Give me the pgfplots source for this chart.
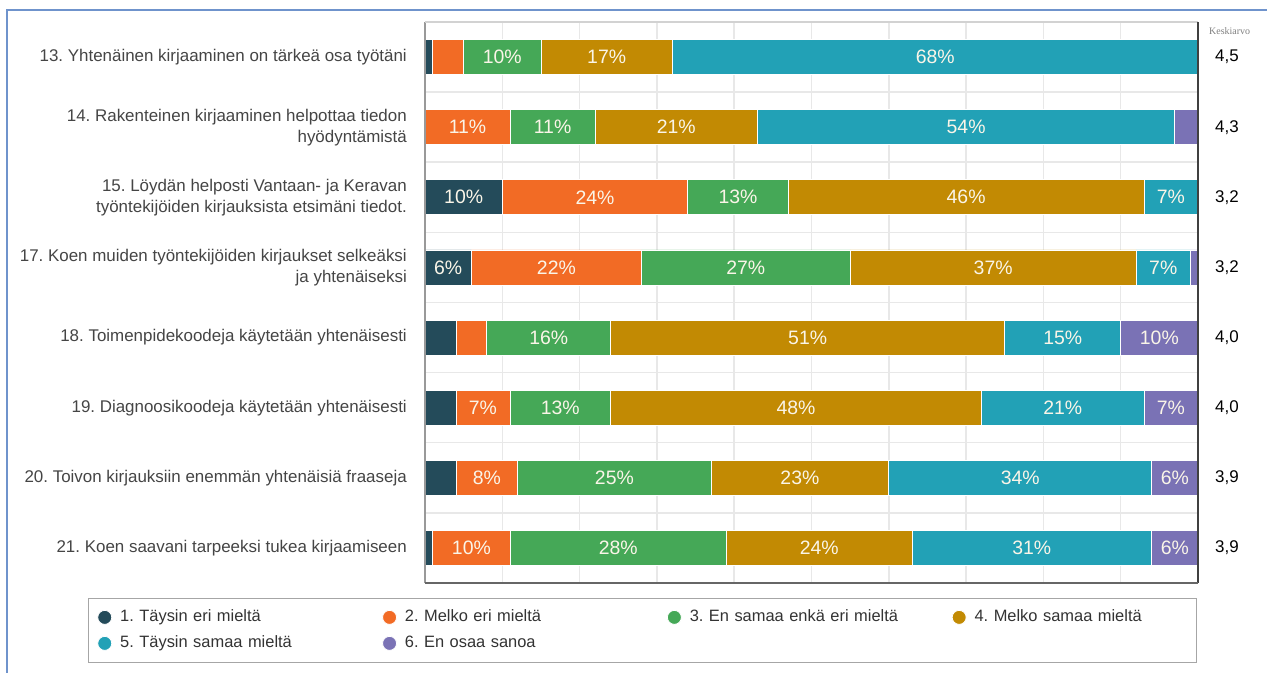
\documentclass[border=0pt]{standalone}
\usepackage{pgfplots}
\usepackage{pgfplotstable}
\pgfplotsset{compat=1.18}
\usepackage{fontspec}
\setmainfont{Liberation Sans}
\newfontfamily\seriffont{Liberation Serif}
\frenchspacing
\definecolor{c1}{HTML}{244B5A}
\definecolor{c2}{HTML}{F26B25}
\definecolor{c3}{HTML}{45A857}
\definecolor{c4}{HTML}{C28A03}
\definecolor{c5}{HTML}{22A1B6}
\definecolor{c6}{HTML}{7A72B5}
\definecolor{framec}{HTML}{6F93CC}
\definecolor{gridc}{HTML}{E8E8E8}
\definecolor{labc}{HTML}{454545}
\definecolor{legc}{HTML}{333333}
\definecolor{barlab}{HTML}{FAF5E8}

\pgfplotstableread{
row s1 s2 s3 s4 s5 s6
8 1 4 10 17 68 0
7 0 11 11 21 54 3
6 10 24 13 46 7 0
5 6 22 27 37 7 1
4 4 4 16 51 15 10
3 4 7 13 48 21 7
2 4 8 25 23 34 6
1 1 10 28 24 31 6
}\data

\begin{document}
\begin{tikzpicture}[x=1bp,y=1bp]
\path[use as bounding box, fill=white] (0,0) rectangle (1267,673);
\begin{axis}[
  at={(425bp,90bp)}, anchor=south west,
  width=773bp, height=561bp, scale only axis,
  xbar stacked, bar width=35bp,
  xmin=0, xmax=100, ymin=0.5, ymax=8.5,
  axis line style={draw=none},
  xtick={10,20,...,90}, xticklabels={},
  xmajorgrids, major grid style={gridc, line width=1.5bp},
  ytick={1,...,8},
  minor ytick={1.5,2.5,...,7.5},
  yminorgrids, minor grid style={gridc, line width=1.5bp},
  major tick length=0pt, minor tick length=0pt,
  yticklabels={
    21. Koen saavani tarpeeksi tukea kirjaamiseen,
    20. Toivon kirjauksiin enemmän yhtenäisiä fraaseja,
    19. Diagnoosikoodeja käytetään yhtenäisesti,
    18. Toimenpidekoodeja käytetään yhtenäisesti,
    {17. Koen muiden työntekijöiden kirjaukset selkeäksi\\ja yhtenäiseksi},
    {15. Löydän helposti Vantaan- ja Keravan\\työntekijöiden kirjauksista etsimäni tiedot.},
    {14. Rakenteinen kirjaaminen helpottaa tiedon\\hyödyntämistä},
    13. Yhtenäinen kirjaaminen on tärkeä osa työtäni},
  yticklabel style={align=right, font=\fontsize{17}{21}\selectfont, text=labc, inner sep=0pt, xshift=-18bp},
  legend columns=4,
  legend image code/.code={\fill (7bp,0bp) circle (7bp);},
  legend style={at={(-0.436,-0.0267)}, anchor=north west, draw=gray!70, line width=0.8bp,
    inner xsep=9bp, inner ysep=6bp,
    font=\fontsize{16.5}{18}\selectfont, text=legc,
    nodes={inner xsep=0bp, inner ysep=6bp, text height=11bp, text depth=3bp, text width=213bp, align=left},
    /tikz/every odd column/.append style={column sep=8bp},
    /tikz/every even column/.append style={column sep=49bp}},
]
\addplot[fill=c1, draw=white, line width=0.8bp] table[x=s1, y=row] {\data};
\addlegendentry{1. Täysin eri mieltä}
\addplot[fill=c2, draw=white, line width=0.8bp] table[x=s2, y=row] {\data};
\addlegendentry{2. Melko eri mieltä}
\addplot[fill=c3, draw=white, line width=0.8bp] table[x=s3, y=row] {\data};
\addlegendentry{3. En samaa enkä eri mieltä}
\addplot[fill=c4, draw=white, line width=0.8bp] table[x=s4, y=row] {\data};
\addlegendentry{4. Melko samaa mieltä}
\addplot[fill=c5, draw=white, line width=0.8bp] table[x=s5, y=row] {\data};
\addlegendentry{5. Täysin samaa mieltä}
\addplot[fill=c6, draw=white, line width=0.8bp] table[x=s6, y=row] {\data};
\addlegendentry{6. En osaa sanoa}
\end{axis}
\begin{axis}[
  at={(425bp,90bp)}, anchor=south west,
  width=773bp, height=561bp, scale only axis,
  xmin=0, xmax=100, ymin=0.5, ymax=8.5,
  axis line style={draw=none},
  xtick=\empty, ytick={1,...,8},
  major tick length=0pt,
  yticklabel pos=right,
  yticklabels={{3,9},{3,9},{4,0},{4,0},{3,2},{3,2},{4,3},{4,5}},
  yticklabel style={anchor=west, inner sep=0pt, xshift=17bp, font=\fontsize{17}{18}\selectfont, text=black},
  nodes near coords,
  point meta=explicit symbolic,
  every node near coord/.append style={anchor=center, text=barlab, font=\fontsize{19.5}{20}\selectfont},
]
\addplot[draw=none, mark=none, nodes near coords] coordinates {
  (10,8) [10\%] (23.5,8) [17\%] (66,8) [68\%]
  (5.5,7) [11\%] (16.5,7) [11\%] (32.5,7) [21\%] (70,7) [54\%]
  (5,6) [10\%] (22,6) [24\%] (40.5,6) [13\%] (70,6) [46\%] (96.5,6) [7\%]
  (3,5) [6\%] (17,5) [22\%] (41.5,5) [27\%] (73.5,5) [37\%] (95.5,5) [7\%]
  (16,4) [16\%] (49.5,4) [51\%] (82.5,4) [15\%] (95,4) [10\%]
  (7.5,3) [7\%] (17.5,3) [13\%] (48,3) [48\%] (82.5,3) [21\%] (96.5,3) [7\%]
  (8,2) [8\%] (24.5,2) [25\%] (48.5,2) [23\%] (77,2) [34\%] (97,2) [6\%]
  (6,1) [10\%] (25,1) [28\%] (51,1) [24\%] (78.5,1) [31\%] (97,1) [6\%]
};
\end{axis}
\draw[gray!80, line width=1.5bp] (425,90) -- (425,651);
\draw[gray!35, line width=1.5bp] (425,651) -- (1198,651);
\draw[black!75, line width=1.5bp] (1198,90) -- (1198,651);
\draw[black!60, line width=1.2bp] (425,90) -- (1198,90);
\node[anchor=west, inner sep=0pt, text=gray, font=\seriffont\fontsize{10}{12}\selectfont] at (1209,642) {Keskiarvo};
\draw[framec, line width=1.5bp] (7,0) -- (7,663) -- (1267,663);
\end{tikzpicture}
\end{document}
